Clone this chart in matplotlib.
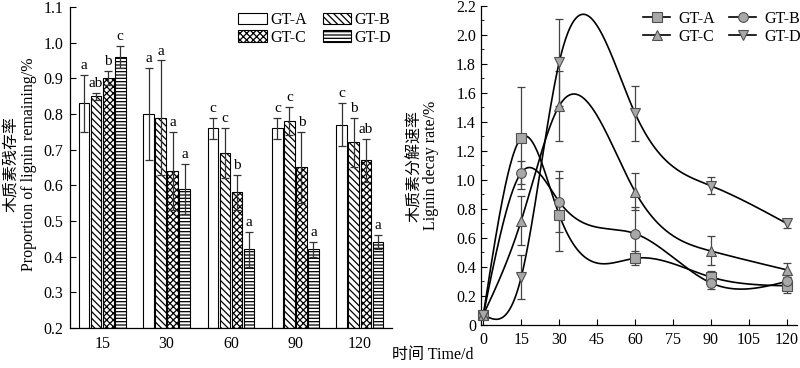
import matplotlib
matplotlib.use('Agg')
import matplotlib.pyplot as plt
import numpy as np

plt.rcParams['font.family'] = ['Liberation Serif', 'Noto Sans CJK SC']
plt.rcParams['hatch.linewidth'] = 0.9
plt.rcParams['axes.linewidth'] = 0.9

# ---- left panel: proportion of lignin remaining ----
days_cat = ["15", "30", "60", "90", "120"]
groups = ["GT-A", "GT-B", "GT-C", "GT-D"]
remain = {
    "GT-A": [0.83, 0.80, 0.76, 0.76, 0.77],
    "GT-B": [0.85, 0.79, 0.69, 0.78, 0.72],
    "GT-C": [0.90, 0.64, 0.58, 0.65, 0.67],
    "GT-D": [0.96, 0.59, 0.42, 0.42, 0.44],
}
remain_err = {
    "GT-A": [0.08, 0.13, 0.03, 0.03, 0.06],
    "GT-B": [0.01, 0.16, 0.07, 0.04, 0.07],
    "GT-C": [0.02, 0.11, 0.05, 0.10, 0.06],
    "GT-D": [0.03, 0.07, 0.05, 0.02, 0.02],
}
letters = {
    "GT-A": ["a", "a", "c", "c", "c"],
    "GT-B": ["ab", "a", "c", "c", "b"],
    "GT-C": ["b", "a", "b", "b", "ab"],
    "GT-D": ["c", "a", "a", "a", "a"],
}
hatches = {"GT-A": "", "GT-B": "\\" * 5, "GT-C": "xxxxx", "GT-D": "-----"}

# ---- right panel: lignin decay rate ----
days = [0, 15, 30, 60, 90, 120]
decay = {
    "GT-A": [0.07, 1.29, 0.76, 0.46, 0.33, 0.27],
    "GT-B": [0.07, 1.05, 0.85, 0.63, 0.29, 0.30],
    "GT-C": [0.07, 0.72, 1.51, 0.92, 0.51, 0.38],
    "GT-D": [0.07, 0.33, 1.81, 1.46, 0.96, 0.70],
}
decay_err = {
    "GT-A": [0, 0.35, 0.25, 0.05, 0.04, 0.05],
    "GT-B": [0, 0.08, 0.21, 0.18, 0.04, 0.03],
    "GT-C": [0, 0.17, 0.24, 0.13, 0.10, 0.05],
    "GT-D": [0, 0.15, 0.30, 0.19, 0.06, 0.03],
}
markers = {"GT-A": "s", "GT-B": "o", "GT-C": "^", "GT-D": "v"}


def natural_spline(x, y, xs):
    x = np.asarray(x, float)
    y = np.asarray(y, float)
    n = len(x)
    h = np.diff(x)
    A = np.zeros((n, n))
    b = np.zeros(n)
    A[0, 0] = A[-1, -1] = 1
    for i in range(1, n - 1):
        A[i, i - 1] = h[i - 1]
        A[i, i] = 2 * (h[i - 1] + h[i])
        A[i, i + 1] = h[i]
        b[i] = 6 * ((y[i + 1] - y[i]) / h[i] - (y[i] - y[i - 1]) / h[i - 1])
    M = np.linalg.solve(A, b)
    idx = np.clip(np.searchsorted(x, xs) - 1, 0, n - 2)
    x0, x1 = x[idx], x[idx + 1]
    hh = x1 - x0
    t0, t1 = x1 - xs, xs - x0
    return (M[idx] * t0**3 / (6 * hh) + M[idx + 1] * t1**3 / (6 * hh)
            + (y[idx] / hh - M[idx] * hh / 6) * t0
            + (y[idx + 1] / hh - M[idx + 1] * hh / 6) * t1)


fig = plt.figure(figsize=(8, 3.68), dpi=100)

# left
ax1 = fig.add_axes([0.0875, 0.109, 0.4025, 0.872])
x = np.arange(len(days_cat))
width = 0.165
step = 0.187
for i, g in enumerate(groups):
    pos = x + (i - 1.5) * step
    ax1.bar(pos, np.array(remain[g]) - 0.2, bottom=0.2, width=width, color='white',
            edgecolor='black', linewidth=0.8, hatch=hatches[g], label=g)
    ax1.errorbar(pos, remain[g], yerr=remain_err[g], fmt='none', ecolor='#333333',
                 elinewidth=0.9, capsize=3, capthick=0.9)
    for p, v, e, t in zip(pos, remain[g], remain_err[g], letters[g]):
        ax1.text(p, v + e + 0.008, t, ha='center', va='bottom', fontsize=11)

ax1.set_xlim(-0.5, 4.5)
ax1.set_ylim(0.2, 1.1)
ax1.set_xticks(x)
ax1.set_xticklabels(days_cat)
ax1.set_yticks(np.arange(0.2, 1.11, 0.1))
ax1.set_yticklabels(["%.1f" % v for v in np.arange(0.2, 1.11, 0.1)])
ax1.tick_params(axis='y', direction='in', length=4, labelsize=11.5, pad=5)
ax1.tick_params(axis='x', length=0, labelsize=11.5, pad=6)
ax1.spines['top'].set_visible(False)
ax1.spines['right'].set_visible(False)

h, l = ax1.get_legend_handles_labels()
order = [0, 2, 1, 3]
ax1.legend([h[k] for k in order], [l[k] for k in order], ncol=2, frameon=False,
           loc='upper left', bbox_to_anchor=(230 / 800, 1 - 4 / 368),
           bbox_transform=fig.transFigure, fontsize=11.5, borderpad=0,
           handlelength=1.8, handleheight=0.7, handletextpad=0.2,
           columnspacing=1.0, labelspacing=0.1)

fig.text(12 / 800, 0.555, "木质素残存率", rotation=90, ha='center', va='center', fontsize=11.5)
fig.text(29 / 800, 0.555, "Proportion of lignin remaining/%", rotation=90,
         ha='center', va='center', fontsize=11.5)

# right
ax2 = fig.add_axes([0.601, 0.117, 0.395, 0.867])
xs = np.linspace(0, 120, 400)
for g in groups:
    ax2.plot(xs, natural_spline(days, decay[g], xs), color='black', linewidth=1.2)
    ax2.errorbar(days[1:], decay[g][1:], yerr=decay_err[g][1:], fmt='none',
                 ecolor='#444444', elinewidth=0.9, capsize=3, capthick=0.9)
    ax2.plot(days, decay[g], linestyle='none', marker=markers[g], markersize=7,
             markerfacecolor='#a8a8a8', markeredgecolor='#505050',
             markeredgewidth=0.8, clip_on=False, zorder=5)

handles = []
for g in groups:
    ln, = ax2.plot([], [], color='black', linewidth=1.2, marker=markers[g], markersize=7,
                   markerfacecolor='#a8a8a8', markeredgecolor='#505050',
                   markeredgewidth=0.8, label=g)
    handles.append(ln)
ax2.legend([handles[k] for k in order], [groups[k] for k in order], ncol=2, frameon=False,
           loc='upper left', bbox_to_anchor=(635 / 800, 1 - 3 / 368),
           bbox_transform=fig.transFigure, fontsize=11.5, borderpad=0,
           handlelength=1.7, handletextpad=0.5, columnspacing=0.9, labelspacing=0.1)

ax2.set_xlim(-1, 124)
ax2.set_ylim(0, 2.2)
ax2.set_xticks(np.arange(0, 121, 15))
ax2.set_yticks(np.arange(0, 2.21, 0.2))
ax2.set_yticklabels(["0"] + ["%.1f" % v for v in np.arange(0.2, 2.21, 0.2)])
ax2.set_yticks(np.arange(0, 2.21, 0.1), minor=True)
ax2.tick_params(axis='both', direction='in', length=4, labelsize=11.5)
ax2.tick_params(axis='y', which='minor', direction='in', length=2)
ax2.tick_params(axis='x', pad=5)
ax2.spines['top'].set_visible(False)
ax2.spines['right'].set_visible(False)

fig.text(415 / 800, 0.55, "木质素分解速率", rotation=90, ha='center', va='center', fontsize=11.5)
fig.text(431 / 800, 0.55, "Lignin decay rate/%", rotation=90, ha='center', va='center',
         fontsize=11.5)

fig.text(433 / 800, 0.035, "时间 Time/d", ha='center', va='center', fontsize=11.5)

fig.savefig('out.png', dpi=100)
